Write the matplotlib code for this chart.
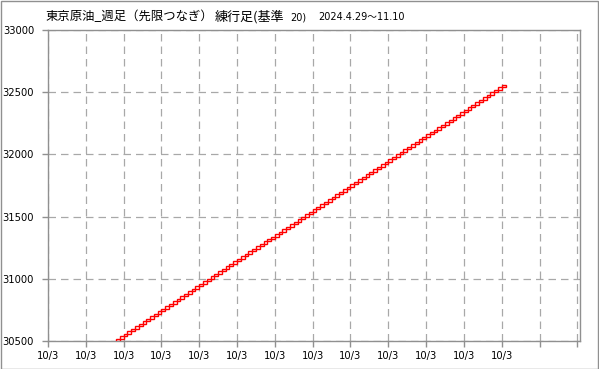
import matplotlib
matplotlib.use("Agg")
import matplotlib.pyplot as plt
from matplotlib.patches import Rectangle

# Renko bricks (base 20): bottom value of each up-brick
brick_low = [
    30500, 30520, 30540, 30560, 30580, 30600, 30620, 30640, 30660, 30680,
    30700, 30720, 30740, 30760, 30780, 30800, 30820, 30840, 30860, 30880,
    30900, 30920, 30940, 30960, 30980, 31000, 31020, 31040, 31060, 31080,
    31100, 31120, 31140, 31160, 31180, 31200, 31220, 31240, 31260, 31280,
    31300, 31320, 31340, 31360, 31380, 31400, 31420, 31440, 31460, 31480,
    31500, 31520, 31540, 31560, 31580, 31600, 31620, 31640, 31660, 31680,
    31700, 31720, 31740, 31760, 31780, 31800, 31820, 31840, 31860, 31880,
    31900, 31920, 31940, 31960, 31980, 32000, 32020, 32040, 32060, 32080,
    32100, 32120, 32140, 32160, 32180, 32200, 32220, 32240, 32260, 32280,
    32300, 32320, 32340, 32360, 32380, 32400, 32420, 32440, 32460, 32480,
    32500, 32520, 32540,
]
brick_size = 20
first_index = 18
x_tick_labels = ["10/3"] * 13 + ["", ""]
y_ticks = [30500, 31000, 31500, 32000, 32500, 33000]
title_main = "東京原油_週足（先限つなぎ）"
title_renko = "練行足(基準"
title_base = "20)"
title_period = "2024.4.29～11.10"

W, H = 599, 369
fig = plt.figure(figsize=(W / 100, H / 100), dpi=100)
ax = fig.add_axes([48 / W, 1 - 341 / H, (580 - 48) / W, (341 - 30) / H])

for i, lo in enumerate(brick_low):
    ax.add_patch(Rectangle((first_index + i, lo), 1, brick_size,
                           facecolor="white", edgecolor="#ff0000",
                           linewidth=1.0, zorder=3))

ax.set_xlim(0, 140.7)
ax.set_ylim(30500, 33000)
ax.set_xticks(list(range(0, 150, 10)))
ax.set_xticklabels(x_tick_labels)
ax.set_yticks(y_ticks)
ax.set_yticklabels([str(v) for v in y_ticks])

gcol = "#a8a8a8"
ax.grid(True, color=gcol, linestyle=(0, (6, 4)), linewidth=0.9)
for s in ax.spines.values():
    s.set_color("#909090")
    s.set_linewidth(1.0)
ax.tick_params(axis="both", colors="#909090", length=4, width=1,
               labelcolor="#000000", labelsize=7.2)
ax.tick_params(axis="y", pad=6)
ax.tick_params(axis="x", pad=3)

jp = ["Noto Sans CJK JP", "DejaVu Sans"]
num = ["DejaVu Sans", "Noto Sans CJK JP"]
yt = 1 - 17 / H
fig.text(45 / W, yt, title_main, fontsize=8.9, family=jp, va="center", ha="left")
fig.text(215 / W, yt, title_renko, fontsize=9.4, family=jp, va="center", ha="left")
fig.text(290 / W, yt, title_base, fontsize=7, family=num, va="center", ha="left")
fig.text(318 / W, yt, title_period, fontsize=7, family=num, va="center", ha="left")

fig.patches.append(Rectangle((0.5 / W, 0.5 / H), (W - 1.5) / W, (H - 1.5) / H,
                             transform=fig.transFigure, fill=False,
                             edgecolor="#909090", linewidth=1.0))

fig.savefig("out.png", dpi=100)
